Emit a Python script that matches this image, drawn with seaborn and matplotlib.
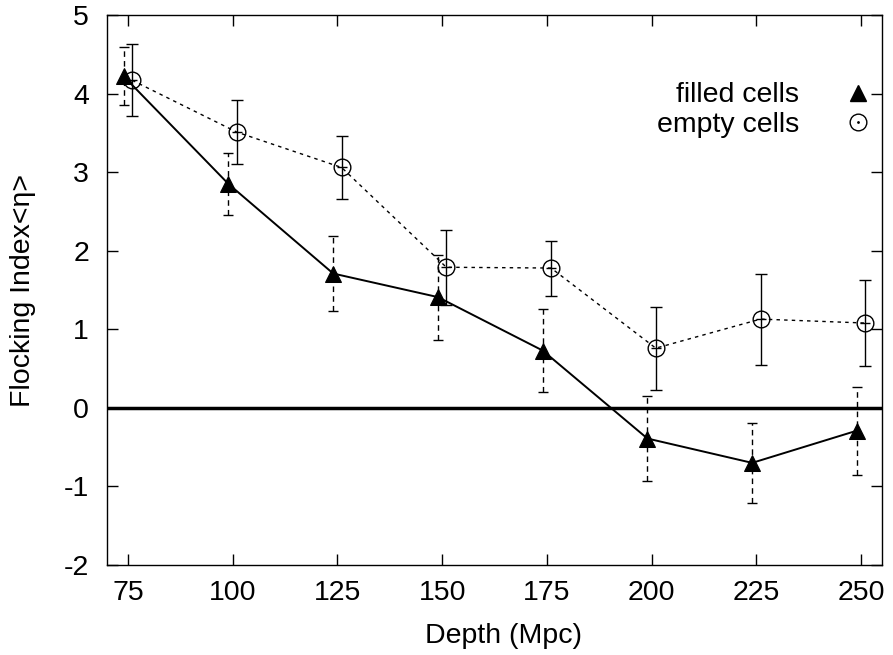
import matplotlib
matplotlib.use("Agg")
import matplotlib.pyplot as plt
import seaborn as sns
import pandas as pd
from matplotlib.lines import Line2D

# ---- data ----
filled_depth = [74, 99, 124, 149, 174, 199, 224, 249]
filled_eta = [4.22, 2.85, 1.71, 1.41, 0.73, -0.39, -0.70, -0.29]
filled_err = [0.37, 0.40, 0.48, 0.54, 0.53, 0.54, 0.51, 0.56]

empty_depth = [76, 101, 126, 151, 176, 201, 226, 251]
empty_eta = [4.17, 3.51, 3.06, 1.79, 1.78, 0.76, 1.13, 1.08]
empty_err = [0.46, 0.41, 0.40, 0.48, 0.35, 0.53, 0.58, 0.55]

x_ticks = [75, 100, 125, 150, 175, 200, 225, 250]
y_ticks = [-2, -1, 0, 1, 2, 3, 4, 5]

sns.set_style("ticks")
plt.rcParams['font.family'] = ['Liberation Sans', 'DejaVu Sans']
plt.rcParams['font.size'] = 20
plt.rcParams['axes.unicode_minus'] = False
plt.rcParams['text.color'] = 'black'
plt.rcParams['axes.labelcolor'] = 'black'
plt.rcParams['xtick.color'] = 'black'
plt.rcParams['ytick.color'] = 'black'

FS = 20.5

fig = plt.figure(figsize=(8.93, 6.55), dpi=100)
ax = fig.add_subplot(111)
fig.subplots_adjust(left=0.1198, right=0.9877, top=0.977, bottom=0.1374)

df_f = pd.DataFrame({"depth": filled_depth, "eta": filled_eta})
df_e = pd.DataFrame({"depth": empty_depth, "eta": empty_eta})

# zero line
ax.axhline(0, color="black", lw=2.5, zorder=1)

# error bars
eb1 = ax.errorbar(filled_depth, filled_eta, yerr=filled_err, fmt="none",
                  ecolor="black", elinewidth=1.0, capsize=3.5, capthick=1.0, zorder=2)
eb1[2][0].set_linestyle((0, (4, 3)))
eb2 = ax.errorbar(empty_depth, empty_eta, yerr=empty_err, fmt="none",
                  ecolor="black", elinewidth=1.0, capsize=4.5, capthick=1.0, zorder=2)

# lines
sns.lineplot(data=df_f, x="depth", y="eta", ax=ax, color="black", lw=1.4,
             marker="^", markersize=11, markeredgecolor="black",
             markerfacecolor="black", legend=False, zorder=3)
sns.lineplot(data=df_e, x="depth", y="eta", ax=ax, color="black", lw=1.0,
             linestyle=(0, (2.5, 3)), marker="o", markersize=12,
             markerfacecolor="none", markeredgecolor="black", markeredgewidth=1.0,
             legend=False, zorder=3)
ax.plot(empty_depth, empty_eta, linestyle="none", marker="_", markersize=7,
        color="black", markeredgewidth=1.0, zorder=4)

ax.set_xlim(70, 255)
ax.set_ylim(-2, 5)
ax.set_xticks(x_ticks)
ax.set_yticks(y_ticks)
ax.tick_params(direction="in", length=8, width=1, top=True, right=True,
               labelsize=FS, colors="black")
ax.tick_params(axis="x", pad=11)
ax.tick_params(axis="y", pad=13)
for s in ax.spines.values():
    s.set_visible(True)
    s.set_linewidth(1.0)
    s.set_color("black")

ax.set_xlabel("Depth (Mpc)", fontsize=FS, color="black")
ax.xaxis.set_label_coords(0.512, -0.105)
ax.set_ylabel("Flocking Index<η>", fontsize=FS, labelpad=20, color="black")

# legend with points on the right
h1 = Line2D([], [], linestyle="none", marker="^", markersize=12, color="black")
h2a = Line2D([], [], linestyle="none", marker="o", markersize=12,
             markerfacecolor="none", markeredgecolor="black", markeredgewidth=1.0)
h2b = Line2D([], [], linestyle="none", marker=".", markersize=2, color="black")
leg = ax.legend([h1, (h2a, h2b)], ["filled cells", "empty cells"], loc="center right",
                bbox_to_anchor=(0.996, 0.827), frameon=False, markerfirst=False,
                fontsize=FS, handlelength=1.5, handletextpad=1.29, labelspacing=0.12,
                borderpad=0, borderaxespad=0, labelcolor="black")
for col in leg._legend_handle_box.get_children():
    col.align = "right"

fig.savefig("out.png", dpi=100)
